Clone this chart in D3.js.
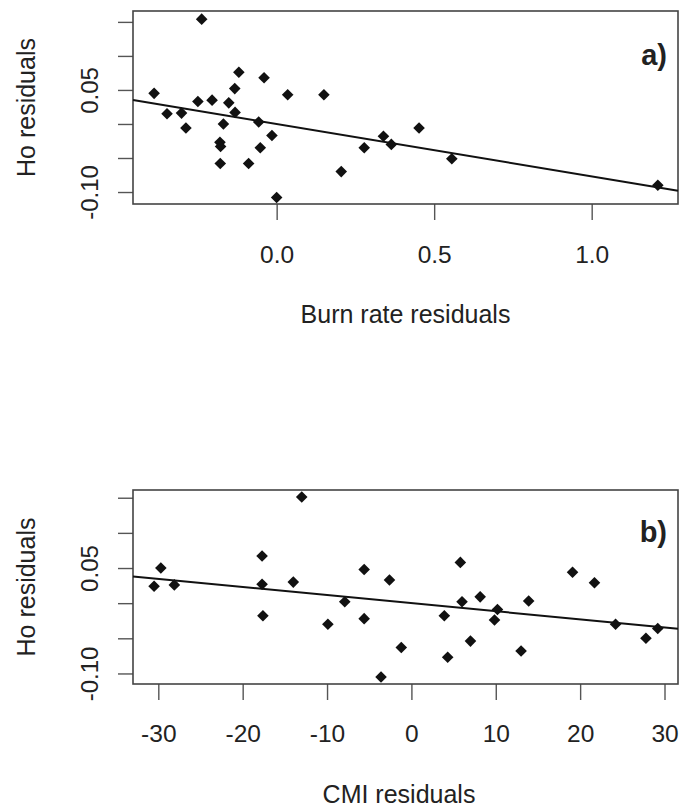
<!DOCTYPE html>
<html>
<head>
<meta charset="utf-8">
<script src="https://cdn.jsdelivr.net/npm/d3@7"></script>
<style>
  body { margin: 0; background: #fff; }
  text { font-family: "Liberation Sans", Arial, sans-serif; fill: #222; }
</style>
</head>
<body>
<div id="chart"></div>
<script>
// panel a: Burn rate residuals vs Ho residuals
const burnX = [-0.238, -0.389, -0.348, -0.302, -0.288, -0.250, -0.205, -0.152, -0.133, -0.120,
    -0.132, -0.169, -0.180, -0.178, -0.179, -0.089, -0.052, -0.057, -0.040, -0.015,
    0.000, 0.035, 0.150, 0.205, 0.278, 0.339, 0.364, 0.452, 0.556, 1.210];
const burnHo = [0.154, 0.045, 0.015, 0.016, -0.006, 0.033, 0.035, 0.031, 0.052, 0.076,
    0.017, 0.000, -0.027, -0.033, -0.058, -0.058, -0.035, 0.003, 0.068, -0.017,
    -0.108, 0.043, 0.043, -0.070, -0.035, -0.018, -0.030, -0.006, -0.051, -0.090];
const burnSlope = -0.077;

// panel b: CMI residuals vs Ho residuals
const cmiX = [-13.0, -30.5, -29.7, -28.1, -17.7, -17.7, -17.6, -14.0, -9.9, -7.9,
    -5.6, -5.6, -2.6, -3.6, -1.2, 3.9, 4.3, 5.8, 6.0, 7.0,
    8.15, 10.2, 9.85, 13.0, 13.9, 19.1, 21.7, 24.2, 27.8, 29.2];
const cmiHo = [0.151, 0.024, 0.050, 0.026, 0.067, 0.027, -0.018, 0.030, -0.030, 0.002,
    0.048, -0.022, 0.033, -0.105, -0.063, -0.018, -0.077, 0.058, 0.002, -0.054,
    0.009, -0.009, -0.024, -0.068, 0.003, 0.044, 0.029, -0.030, -0.050, -0.036];
const cmiSlope = -0.00115;

const hoTicks = [-0.10, -0.05, 0.00, 0.05, 0.10, 0.15];
const hoTickLabels = ["-0.10", "", "", "0.05", "", ""];
const burnTicks = [0.0, 0.5, 1.0];
const burnTickLabels = ["0.0", "0.5", "1.0"];
const cmiTicks = [-30, -20, -10, 0, 10, 20, 30];
const cmiTickLabels = ["-30", "-20", "-10", "0", "10", "20", "30"];

const width = 679, height = 809;
const svg = d3.select("#chart").append("svg").attr("width", width).attr("height", height);

const panels = [
    { xs: burnX, ys: burnHo, slope: burnSlope, xDomain: [-0.456, 1.274], yDomain: [-0.1176, 0.166],
      top: 11, bottom: 204, xTicks: burnTicks, xLabels: burnTickLabels,
      title: "Burn rate residuals", tag: "a)", tickBase: 263, titleBase: 323, tagBase: 65, titleX: 405.5 },
    { xs: cmiX, ys: cmiHo, slope: cmiSlope, xDomain: [-33.0, 31.6], yDomain: [-0.115, 0.161],
      top: 490, bottom: 684, xTicks: cmiTicks, xLabels: cmiTickLabels,
      title: "CMI residuals", tag: "b)", tickBase: 742, titleBase: 803, tagBase: 542, titleX: 399 }
];

const left = 133, right = 678;
const diamond = "M0,-5.8L5.8,0L0,5.8L-5.8,0Z";

panels.forEach(function (p) {
    const x = d3.scaleLinear().domain(p.xDomain).range([left, right]);
    const y = d3.scaleLinear().domain(p.yDomain).range([p.bottom, p.top]);

    // y axis
    const yAxis = d3.axisLeft(y).tickValues(hoTicks).tickSize(15).tickSizeOuter(0)
        .tickFormat((d, i) => hoTickLabels[i]);
    const gy = svg.append("g").attr("transform", `translate(${left},0)`).call(yAxis);
    gy.select(".domain").remove();
    gy.selectAll(".tick line").attr("stroke", "#555").attr("stroke-width", 1.4);
    gy.selectAll(".tick text")
        .attr("transform", "rotate(-90)")
        .attr("x", 0).attr("y", -35).attr("dy", 0)
        .attr("text-anchor", "middle")
        .style("font-size", "24px").style("font-family", "Liberation Sans, Arial, sans-serif")
        .attr("fill", "#222");

    // x axis
    const xAxis = d3.axisBottom(x).tickValues(p.xTicks).tickSize(16).tickSizeOuter(0)
        .tickFormat((d, i) => p.xLabels[i]);
    const gx = svg.append("g").attr("transform", `translate(0,${p.bottom})`).call(xAxis);
    gx.select(".domain").remove();
    gx.selectAll(".tick line").attr("stroke", "#555").attr("stroke-width", 1.4);
    gx.selectAll(".tick text")
        .attr("y", p.tickBase - p.bottom).attr("dy", 0)
        .style("font-size", "24.5px").style("font-family", "Liberation Sans, Arial, sans-serif")
        .attr("fill", "#222");

    // box
    svg.append("rect")
        .attr("x", left).attr("y", p.top)
        .attr("width", right - left).attr("height", p.bottom - p.top)
        .attr("fill", "none").attr("stroke", "#444").attr("stroke-width", 1.6);

    // regression line
    svg.append("line")
        .attr("x1", x(p.xDomain[0])).attr("y1", y(p.slope * p.xDomain[0]))
        .attr("x2", x(p.xDomain[1])).attr("y2", y(p.slope * p.xDomain[1]))
        .attr("stroke", "#111").attr("stroke-width", 2);

    // points
    svg.append("g").selectAll("path")
        .data(p.xs.map((d, i) => [d, p.ys[i]]))
        .join("path")
        .attr("d", diamond)
        .attr("transform", d => `translate(${x(d[0])},${y(d[1])})`)
        .attr("fill", "#111");

    // titles
    svg.append("text")
        .attr("x", p.titleX).attr("y", p.titleBase)
        .attr("text-anchor", "middle")
        .style("font-size", "25px")
        .text(p.title);

    svg.append("text")
        .attr("transform", `translate(35,${(p.top + p.bottom) / 2}) rotate(-90)`)
        .attr("text-anchor", "middle")
        .style("font-size", "25px")
        .text("Ho residuals");

    svg.append("text")
        .attr("x", 667).attr("y", p.tagBase)
        .attr("text-anchor", "end")
        .style("font-size", "29px").style("font-weight", 700)
        .attr("fill", "#111")
        .text(p.tag);
});
</script>
</body>
</html>
